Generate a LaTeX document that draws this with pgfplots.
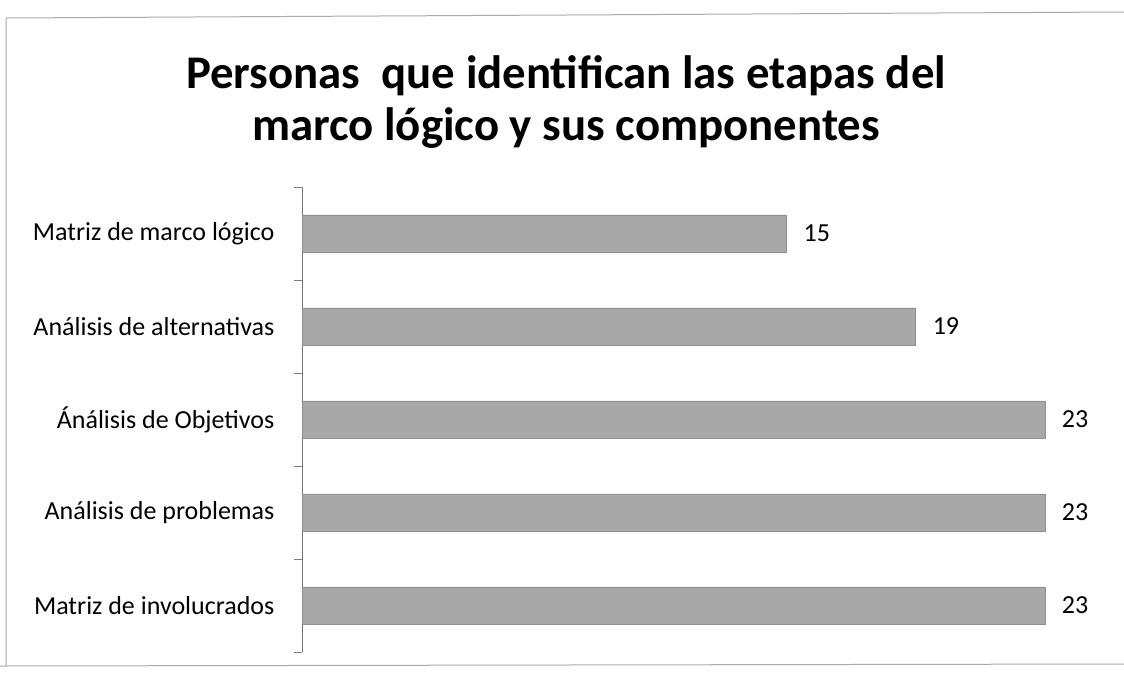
\documentclass[border=0pt]{standalone}
\usepackage{pgfplots}
\pgfplotsset{compat=1.18}
\usepackage{fontspec}
\setmainfont{Carlito}
\definecolor{bargray}{RGB}{168,168,168}
\definecolor{framegray}{RGB}{170,170,170}
\begin{document}
\begin{tikzpicture}
\path[use as bounding box] (0pt,0pt) rectangle (562pt,-340.5pt);
% chart frame
\draw[framegray, line width=0.5pt] (3pt,-333pt) -- (3pt,-9pt) -- (562pt,-6pt);
\draw[framegray, line width=0.5pt] (0pt,-333pt) -- (562pt,-332pt);
% title
\node[align=center, font=\fontsize{23.4}{26}\selectfont\bfseries] at (283pt,-51pt)
  {Personas\ \ que identifican las etapas del\\marco lógico y sus componentes};
\begin{axis}[
  at={(151pt,-326pt)}, anchor=south west,
  scale only axis,
  width=403.75pt, height=232.5pt,
  xmin=0, xmax=25,
  ymin=-0.5, ymax=4.5,
  axis x line=none,
  axis y line=left,
  y axis line style={-, draw=black!55},
  xbar,
  bar width=0.4,
  ytick={0,1,2,3,4},
  yticklabels={Matriz de involucrados, Análisis de problemas, Ánálisis de Objetivos, Análisis de alternativas, Matriz de marco lógico},
  major y tick style={draw=none},
  minor ytick={-0.5,0.5,1.5,2.5,3.5,4.5},
  minor y tick style={draw=black!50},
  minor tick length=4pt,
  tick align=outside,
  yticklabel style={font=\fontsize{13}{15}\selectfont, xshift=-6pt},
  nodes near coords,
  nodes near coords style={font=\fontsize{13}{15}\selectfont, anchor=west, xshift=5pt},
  /pgf/number format/assume math mode=true,
  clip=false,
]
\addplot[fill=bargray, draw=bargray!85!black] coordinates {(23,0) (23,1) (23,2) (19,3) (15,4)};
\end{axis}
\end{tikzpicture}
\end{document}
